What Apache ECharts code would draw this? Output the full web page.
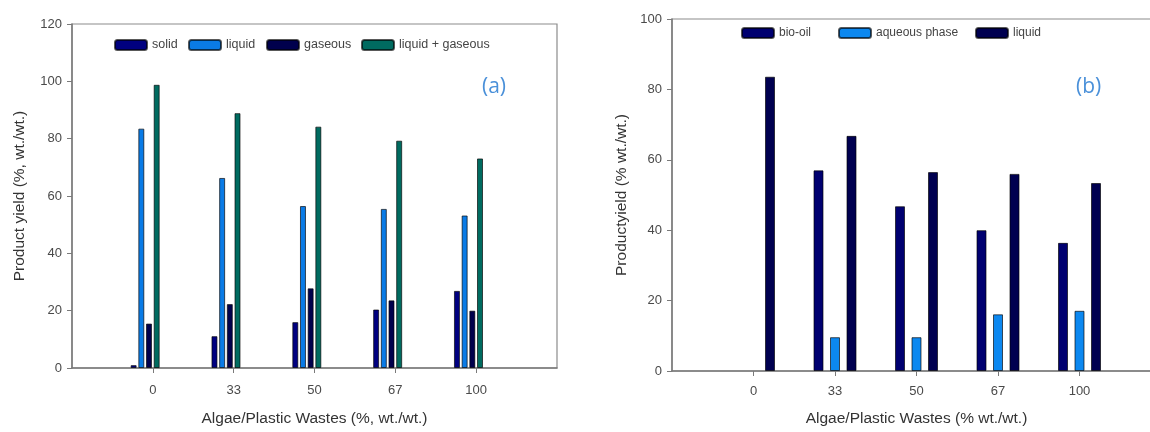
<!DOCTYPE html>
<html>
<head>
<meta charset="utf-8">
<script src="https://cdn.jsdelivr.net/npm/echarts@6/dist/echarts.min.js"></script>
<style>
  html, body { margin: 0; padding: 0; background: #fff; }
  #wrap { position: relative; width: 1150px; height: 432px; overflow: hidden; }
  #chartA { position: absolute; left: 0; top: 0; width: 575px; height: 432px; }
  #chartB { position: absolute; left: 575px; top: 0; width: 620px; height: 432px; }
</style>
</head>
<body>
<div id="wrap">
  <div id="chartA"></div>
  <div id="chartB"></div>
</div>
<script>
// categories (blank ones pad the axis on both sides)
var xLabels = ['', '0', '33', '50', '67', '100', ''];

// (a) product yields
var solid = [1, 11.1, 16, 20.4, 26.9];
var liquid = [83.5, 66.3, 56.5, 55.5, 53.2];
var gaseous = [15.5, 22.3, 27.8, 23.6, 20];
var liquidGaseous = [98.8, 88.9, 84.2, 79.3, 73.1];
var yTicksA = [0, 20, 40, 60, 80, 100, 120];

// (b) liquid split
var bioOil = [null, 57, 46.8, 40, 36.4];
var aqueous = [null, 9.6, 9.6, 16.1, 17.1];
var liquidB = [83.6, 66.8, 56.5, 56, 53.4];
var yTicksB = [0, 20, 40, 60, 80, 100];

function pad(arr) {
    var out = ['-'];
    arr.forEach(function (v) { out.push(v == null ? '-' : v); });
    out.push('-');
    return out;
}

var FONT = '"Liberation Sans", Arial, sans-serif';
var axisGrey = '#7a7a7a';
var labelGrey = '#4a4a4a';

function baseOption(cfg) {
    return {
        animation: false,
        textStyle: { fontFamily: FONT },
        grid: {
            left: cfg.gridLeft, top: cfg.gridTop, width: cfg.gridW, height: cfg.gridH,
            show: true, borderColor: '#8c8c8c', borderWidth: 1.2, containLabel: false
        },
        xAxis: {
            type: 'category',
            data: xLabels,
            boundaryGap: false,
            name: cfg.xName,
            nameLocation: 'middle',
            nameGap: cfg.xNameGap,
            nameTextStyle: { fontSize: 15.5, color: '#333', fontFamily: FONT },
            axisLine: { lineStyle: { color: axisGrey, width: 1.5 } },
            axisTick: {
                show: true, length: 5, lineStyle: { color: axisGrey },
                interval: function (i) { return i > 0 && i < xLabels.length - 1; }
            },
            axisLabel: { interval: 0, margin: cfg.xLabelMargin, fontSize: 13, color: labelGrey },
            splitLine: { show: false }
        },
        yAxis: {
            type: 'value',
            min: 0,
            max: cfg.yTicks[cfg.yTicks.length - 1],
            interval: cfg.yTicks[1] - cfg.yTicks[0],
            name: cfg.yName,
            nameLocation: 'middle',
            nameGap: cfg.yNameGap,
            nameTextStyle: { fontSize: 15.5, color: '#333', fontFamily: FONT },
            axisLine: { show: true, lineStyle: { color: axisGrey, width: 1.5 } },
            axisTick: { show: true, length: 5, lineStyle: { color: axisGrey } },
            axisLabel: { margin: 10, fontSize: 13, color: labelGrey },
            splitLine: { show: false }
        }
    };
}

function barSeries(name, data, color, width, gap) {
    return {
        name: name,
        type: 'bar',
        data: pad(data),
        barWidth: width,
        barGap: gap,
        itemStyle: { color: color, borderColor: 'rgba(0,0,0,0.65)', borderWidth: 1 }
    };
}

function legendItem(name, left, top, size) {
    return {
        data: [name], left: left, top: top, padding: 0,
        itemWidth: 32, itemHeight: 10, itemGap: 0,
        textStyle: { fontSize: size, lineHeight: 14, color: '#444', fontFamily: FONT },
        selectedMode: false
    };
}

// ---- chart (a)
var optA = baseOption({
    gridLeft: 72, gridTop: 24, gridW: 485, gridH: 350,
    xName: 'Algae/Plastic Wastes (%, wt./wt.)', xNameGap: 43, xLabelMargin: 16,
    yName: 'Product yield (%, wt./wt.)', yNameGap: 44,
    yTicks: yTicksA
});
optA.legend = [
    legendItem('solid', 114, 38, 12.5),
    legendItem('liquid', 188, 38, 12.5),
    legendItem('gaseous', 266, 38, 12.5),
    legendItem('liquid + gaseous', 361, 38, 12.5)
];
optA.series = [
    barSeries('solid', solid, '#000080', 6, '28%'),
    barSeries('liquid', liquid, '#0a7be6', 6, '28%'),
    barSeries('gaseous', gaseous, '#00004d', 6, '28%'),
    barSeries('liquid + gaseous', liquidGaseous, '#006b60', 6, '28%'),
    // two empty slots, as in the original plot
    barSeries('_e1', [null, null, null, null, null], '#fff', 6, '28%'),
    barSeries('_e2', [null, null, null, null, null], '#fff', 6, '28%')
];
optA.graphic = [{
    type: 'text', left: 482, top: 77,
    style: { text: '(a)', fontSize: 21, fill: '#4a90d9', fontFamily: '"Open Sans", sans-serif' }
}];

// ---- chart (b)
var optB = baseOption({
    gridLeft: 97, gridTop: 19, gridW: 489, gridH: 352.7,
    xName: 'Algae/Plastic Wastes (% wt./wt.)', xNameGap: 40, xLabelMargin: 14,
    yName: 'Productyield (% wt./wt.)', yNameGap: 40,
    yTicks: yTicksB
});
optB.legend = [
    legendItem('bio-oil', 166, 26, 12),
    legendItem('aqueous phase', 263, 26, 12),
    legendItem('liquid', 400, 26, 12)
];
optB.series = [
    barSeries('bio-oil', bioOil, '#000070', 10, '65%'),
    barSeries('aqueous phase', aqueous, '#0c88f0', 10, '65%'),
    barSeries('liquid', liquidB, '#000050', 10, '65%')
];
optB.graphic = [{
    type: 'text', left: 501, top: 77,
    style: { text: '(b)', fontSize: 21, fill: '#4a90d9', fontFamily: '"Open Sans", sans-serif' }
}];

var chartA = echarts.init(document.getElementById('chartA'));
chartA.setOption(optA);
var chartB = echarts.init(document.getElementById('chartB'));
chartB.setOption(optB);
</script>
</body>
</html>
